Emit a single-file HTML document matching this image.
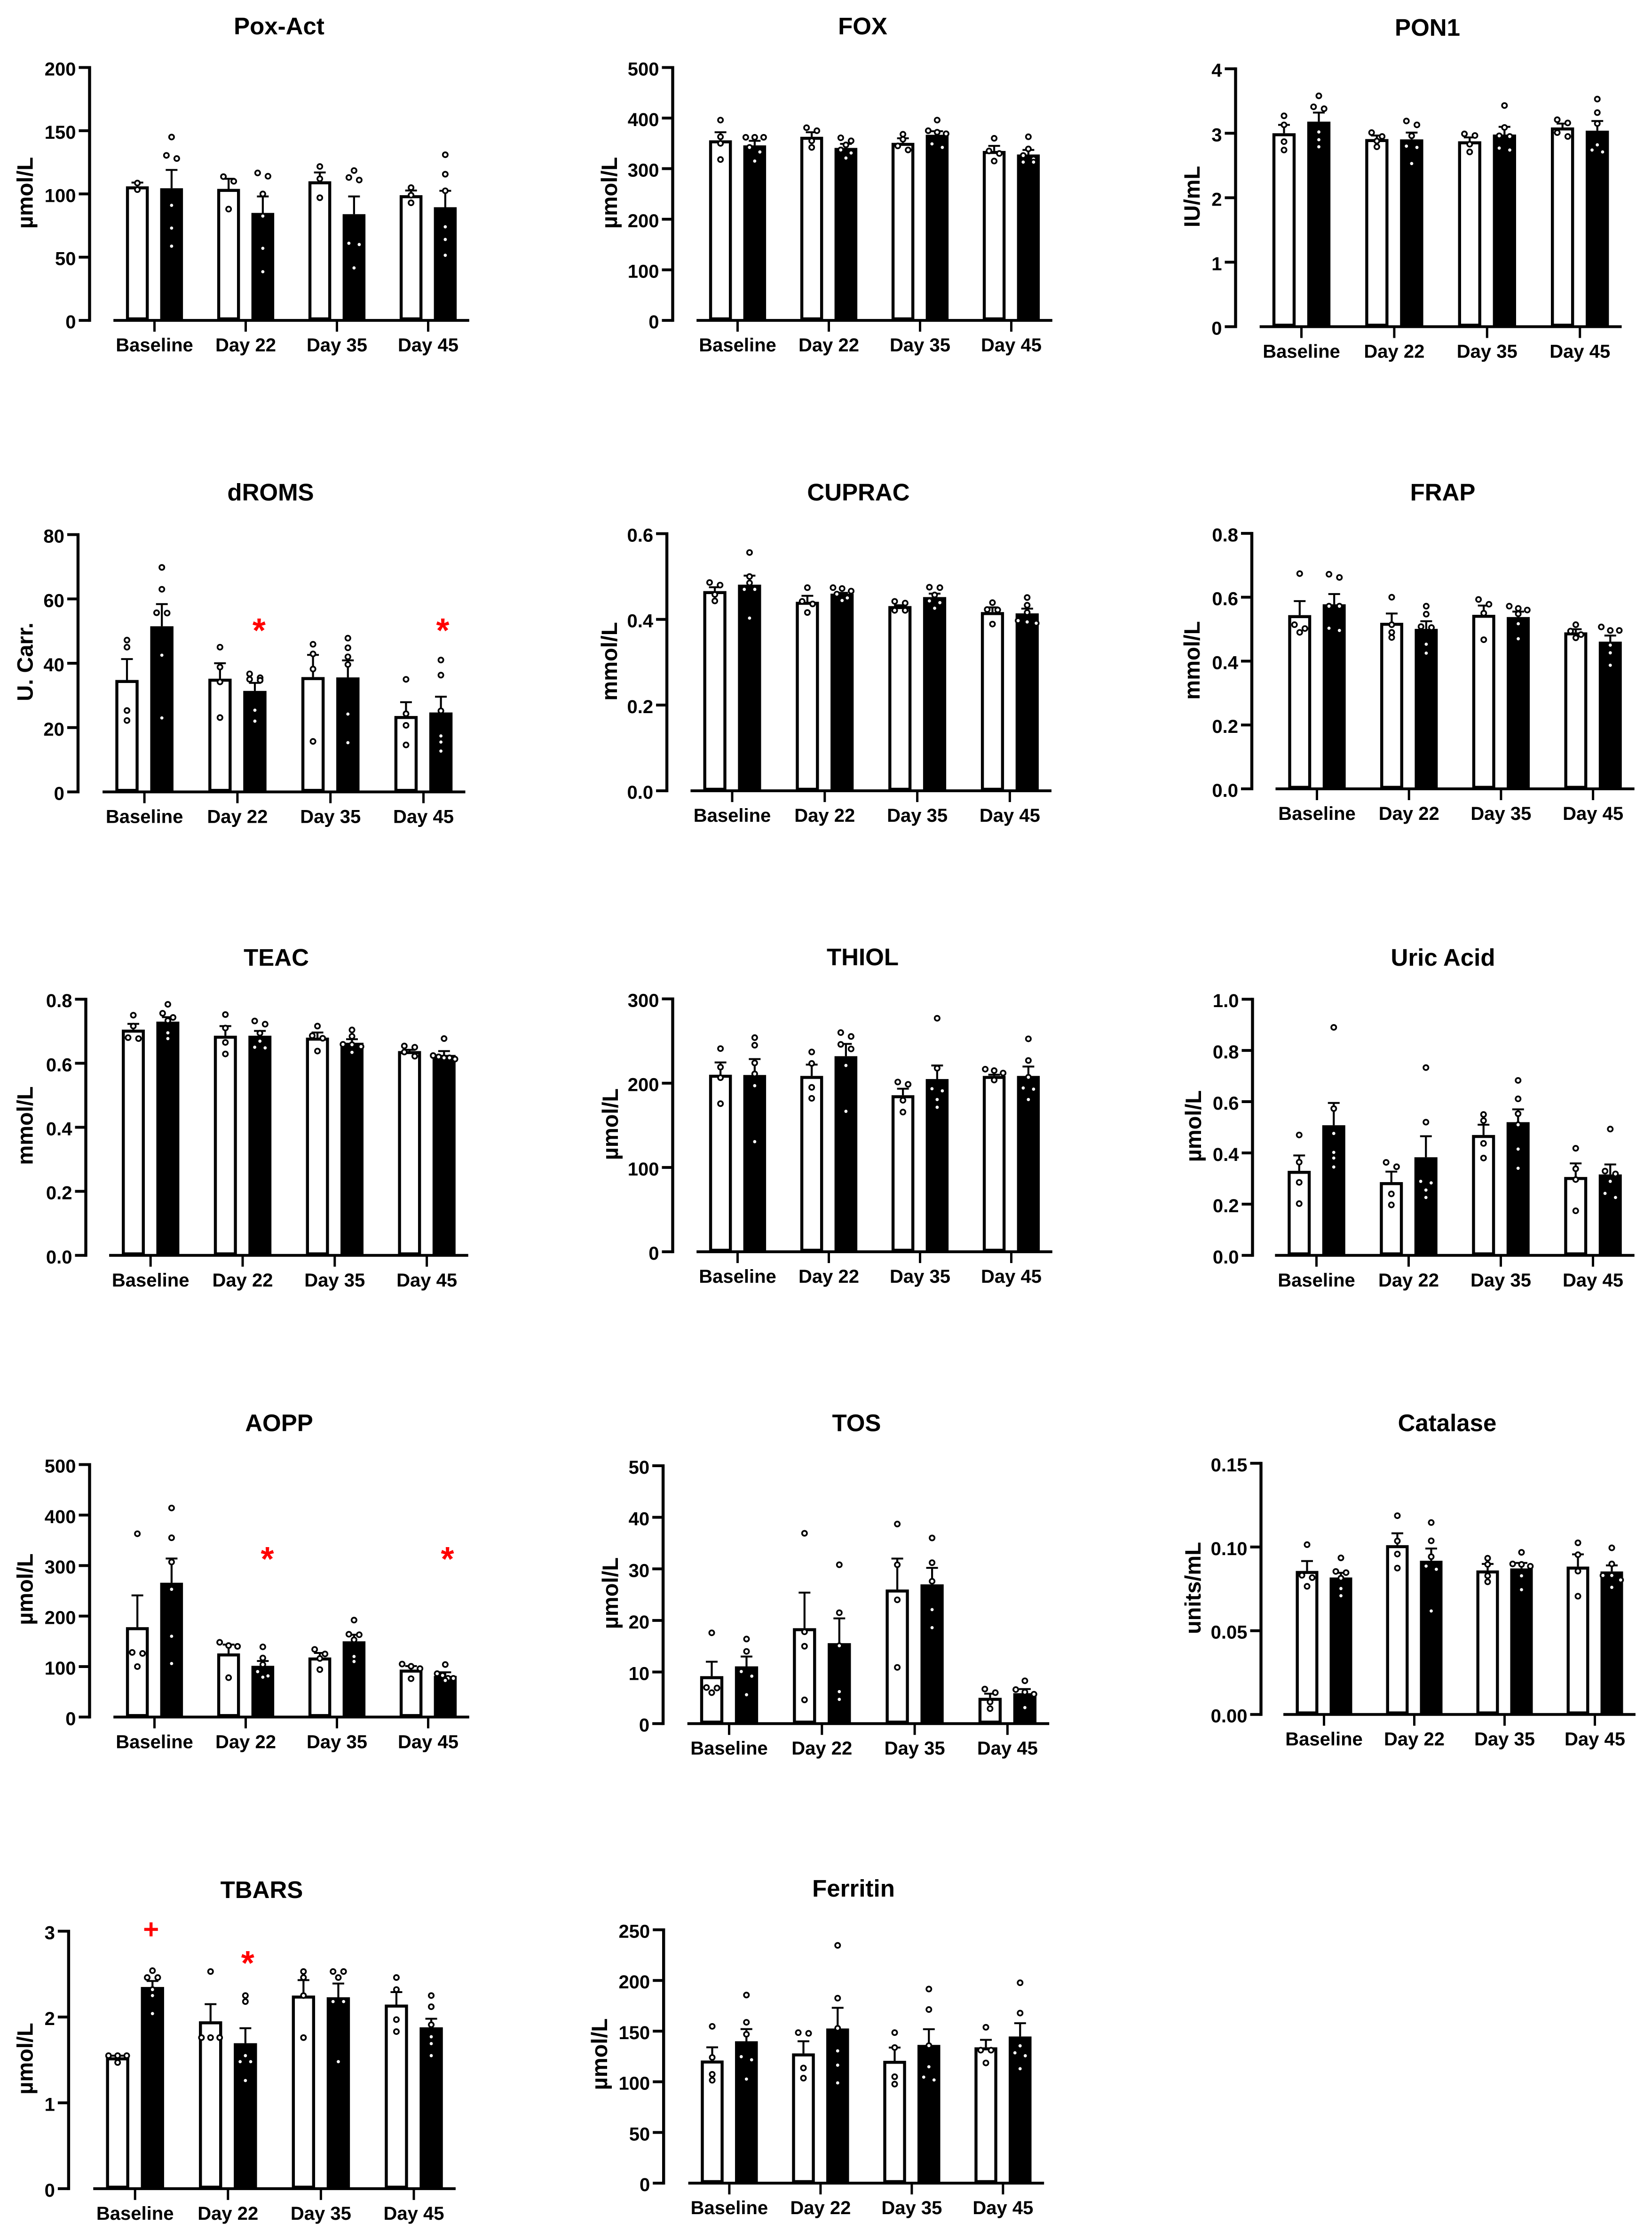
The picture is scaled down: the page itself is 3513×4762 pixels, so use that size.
<!DOCTYPE html>
<html lang="en">
<head>
<meta charset="utf-8">
<title>Oxidative stress biomarkers</title>
<style>
html,body{margin:0;padding:0;background:#fff;}
svg{display:block;}
text{font-family:"Liberation Sans",Arial,sans-serif;font-weight:bold;fill:#000;}
</style>
</head>
<body>
<svg id="figure" xmlns="http://www.w3.org/2000/svg" width="3513" height="4762" viewBox="0 0 3513 4762">
<rect x="0" y="0" width="3513" height="4762" fill="#ffffff"></rect>
</svg>
<script>
// Shared categories. Each means/errorTops/points array runs: Baseline control, Baseline treated, Day 22 control, ...
const categories = ["Baseline", "Day 22", "Day 35", "Day 45"];

const poxActTicks = ["0", "50", "100", "150", "200"];
const poxActMeans = [106, 104.5, 104, 85, 110, 84, 99, 89.5];
const poxActErrorTops = [109, 119, 112, 98, 117, 98, 102.7, 102.5];
const poxActPoints = [[108.6, 103.4], [145, 130.5, 128, 91, 73, 58.7], [113.7, 110, 88], [116.6, 114, 100, 82.5, 57, 38.5], [121.7, 112, 97], [118.5, 113, 111, 61, 60, 41.5], [105, 99, 93], [131, 115.6, 102.5, 74, 64, 51.5]];

const foxTicks = ["0", "100", "200", "300", "400", "500"];
const foxMeans = [356, 346, 363, 341, 351, 367, 335, 328];
const foxErrorTops = [372, 355, 372, 349, 360, 374, 345, 337];
const foxPoints = [[396, 363, 350, 318], [362, 362, 362, 342, 333, 315], [381, 375, 355, 342], [361, 355, 347, 337, 331, 321], [368, 358, 345, 337], [396, 375, 372, 369, 349, 342], [360, 335, 330, 315], [363, 339, 326, 319, 313, 313]];

const pon1Ticks = ["0", "1", "2", "3", "4"];
const pon1Means = [3.0, 3.18, 2.91, 2.905, 2.875, 2.98, 3.09, 3.04];
const pon1ErrorTops = [3.13, 3.32, 2.965, 3.01, 2.935, 3.1, 3.15, 3.19];
const pon1Points = [[3.27, 3.13, 2.87, 2.74], [3.58, 3.41, 3.38, 3.02, 2.9, 2.79], [3.01, 2.95, 2.88, 2.79], [3.19, 3.13, 2.96, 2.8, 2.78, 2.53], [2.99, 2.965, 2.83, 2.71], [3.43, 3.09, 2.96, 2.95, 2.77, 2.74], [3.21, 3.16, 3.01, 2.95], [3.53, 3.32, 3.15, 2.82, 2.74, 2.71]];

const dromsTicks = ["0", "20", "40", "60", "80"];
const dromsMeans = [34.8, 51.5, 35.2, 31.4, 35.7, 35.6, 23.6, 24.7];
const dromsErrorTops = [41.3, 58.4, 40, 33.9, 42.6, 40.9, 27.9, 29.6];
const dromsPoints = [[47.2, 45, 25.3, 22.2], [69.8, 63, 55.7, 55.6, 42.5, 23], [45, 38.8, 34.2, 23.1], [36.7, 35.5, 35, 34.7, 25.4, 22], [45.9, 42.9, 38.2, 15.7], [47.8, 44.8, 42, 39.6, 24.2, 15.3], [35, 24.3, 20.7, 14.6], [41, 36.3, 25.2, 17.4, 15.5, 12.7]];

const cupracTicks = ["0.0", "0.2", "0.4", "0.6"];
const cupracMeans = [0.466, 0.481, 0.441, 0.46, 0.431, 0.452, 0.417, 0.414];
const cupracErrorTops = [0.475, 0.502, 0.455, 0.462, 0.433, 0.46, 0.428, 0.425];
const cupracPoints = [[0.486, 0.48, 0.458, 0.443], [0.556, 0.5, 0.485, 0.47, 0.47, 0.403], [0.474, 0.442, 0.436, 0.416], [0.474, 0.472, 0.466, 0.459, 0.45, 0.444], [0.442, 0.438, 0.421, 0.421], [0.475, 0.474, 0.457, 0.443, 0.439, 0.426], [0.439, 0.423, 0.422, 0.389], [0.451, 0.433, 0.416, 0.397, 0.394, 0.391]];

const frapTicks = ["0.0", "0.2", "0.4", "0.6", "0.8"];
const frapMeans = [0.544, 0.578, 0.52, 0.501, 0.545, 0.538, 0.49, 0.461];
const frapErrorTops = [0.588, 0.61, 0.549, 0.525, 0.574, 0.555, 0.5, 0.48];
const frapPoints = [[0.674, 0.514, 0.502, 0.49], [0.672, 0.662, 0.572, 0.572, 0.503, 0.496], [0.6, 0.514, 0.49, 0.474], [0.572, 0.547, 0.508, 0.505, 0.453, 0.425], [0.593, 0.578, 0.55, 0.467], [0.572, 0.565, 0.56, 0.548, 0.517, 0.47], [0.514, 0.494, 0.483, 0.473], [0.507, 0.496, 0.496, 0.45, 0.426, 0.387]];

const teacTicks = ["0.0", "0.2", "0.4", "0.6", "0.8"];
const teacMeans = [0.705, 0.73, 0.686, 0.686, 0.68, 0.664, 0.638, 0.626];
const teacErrorTops = [0.723, 0.744, 0.716, 0.701, 0.696, 0.675, 0.642, 0.638];
const teacPoints = [[0.75, 0.716, 0.68, 0.677], [0.784, 0.756, 0.743, 0.733, 0.695, 0.677], [0.752, 0.71, 0.665, 0.629], [0.732, 0.722, 0.694, 0.669, 0.65, 0.648], [0.716, 0.686, 0.678, 0.638], [0.704, 0.684, 0.659, 0.658, 0.652, 0.634], [0.654, 0.65, 0.635, 0.622], [0.677, 0.624, 0.62, 0.617, 0.617, 0.613]];

const thiolTicks = ["0", "100", "200", "300"];
const thiolMeans = [210, 209.7, 208.6, 232, 185.7, 204.9, 208.6, 208.6];
const thiolErrorTops = [224.6, 228.6, 222, 246.6, 193.4, 221, 210, 219.7];
const thiolPoints = [[241, 219, 206.5, 175.7], [254, 245, 224, 211, 197, 130.6], [237, 223.4, 195, 182], [260, 255.4, 246, 240.6, 221, 166.6], [201.4, 198.6, 179.7, 165.7], [277, 217.7, 193.4, 190.9, 180.6, 171.4], [216.6, 214.9, 212, 203.7], [252.6, 226.9, 207, 194.3, 192.9, 180.6]];

const uricAcidTicks = ["0.0", "0.2", "0.4", "0.6", "0.8", "1.0"];
const uricAcidMeans = [0.33, 0.508, 0.286, 0.383, 0.47, 0.52, 0.306, 0.316];
const uricAcidErrorTops = [0.39, 0.595, 0.327, 0.465, 0.51, 0.57, 0.359, 0.355];
const uricAcidPoints = [[0.47, 0.364, 0.285, 0.202], [0.89, 0.573, 0.476, 0.402, 0.38, 0.345], [0.363, 0.346, 0.24, 0.197], [0.733, 0.52, 0.289, 0.283, 0.255, 0.226], [0.55, 0.526, 0.437, 0.38], [0.683, 0.611, 0.553, 0.51, 0.415, 0.34], [0.418, 0.338, 0.296, 0.174], [0.493, 0.329, 0.318, 0.289, 0.242, 0.226]];

const aoppTicks = ["0", "100", "200", "300", "400", "500"];
const aoppMeans = [178, 266, 126, 101.5, 118, 150, 94, 81.5];
const aoppErrorTops = [241, 314, 143.5, 111, 127, 163, 101, 88.6];
const aoppPoints = [[363, 128, 126, 100], [414, 355, 307, 253, 160, 106], [148, 141.6, 140, 78], [139, 117, 104, 90, 81.5, 79], [134, 125, 116, 94], [192, 164, 163, 153, 120, 110], [105, 100.5, 96, 76], [104, 86, 82.5, 76.7, 76.7, 72.5]];

const tosTicks = ["0", "10", "20", "30", "40", "50"];
const tosMeans = [9.2, 11.1, 18.5, 15.6, 26, 27, 5, 5.9];
const tosErrorTops = [12, 13, 25.4, 20.4, 32, 30.2, 5.8, 6.7];
const tosPoints = [[17.6, 7, 6.9, 6], [16.4, 14, 10.1, 9.2, 5.6], [36.9, 17.8, 15, 4.6], [30.8, 21.5, 15.1, 6.2, 4.7], [38.7, 30.8, 24, 10.9], [36, 31.2, 27.6, 22.1, 18.6], [6.7, 6, 4.2, 2.9], [8.3, 6.6, 6.1, 5.7, 3.1]];

const catalaseTicks = ["0.00", "0.05", "0.10", "0.15"];
const catalaseMeans = [0.0857, 0.0818, 0.1011, 0.0918, 0.086, 0.0872, 0.0883, 0.0854];
const catalaseErrorTops = [0.0916, 0.0846, 0.1082, 0.0991, 0.0899, 0.0905, 0.0956, 0.089];
const catalasePoints = [[0.1014, 0.0831, 0.0817, 0.0765], [0.0935, 0.0854, 0.0847, 0.0814, 0.0752, 0.0709], [0.1187, 0.1036, 0.0958, 0.0874], [0.1146, 0.1037, 0.0942, 0.0886, 0.0867, 0.0618], [0.0933, 0.0896, 0.0828, 0.0792], [0.0968, 0.0899, 0.0896, 0.0885, 0.0828, 0.0745], [0.1025, 0.0954, 0.0856, 0.0706], [0.0995, 0.0899, 0.083, 0.083, 0.0803, 0.0759]];

const tbarsTicks = ["0", "1", "2", "3"];
const tbarsMeans = [1.53, 2.35, 1.95, 1.695, 2.25, 2.23, 2.145, 1.88];
const tbarsErrorTops = [1.55, 2.42, 2.15, 1.87, 2.43, 2.39, 2.29, 1.98];
const tbarsPoints = [[1.55, 1.55, 1.55, 1.47], [2.54, 2.46, 2.46, 2.32, 2.25, 2.04], [2.53, 1.76, 1.76, 1.76], [2.25, 2.18, 1.55, 1.48, 1.48, 1.26], [2.53, 2.46, 2.25, 1.76], [2.53, 2.53, 2.46, 2.18, 2.18, 1.48], [2.46, 2.32, 1.97, 1.83], [2.25, 2.12, 1.91, 1.77, 1.69, 1.55]];

const ferritinTicks = ["0", "50", "100", "150", "200", "250"];
const ferritinMeans = [121, 140, 128, 152.6, 120.7, 136.4, 134, 144.7];
const ferritinErrorTops = [134, 152, 140, 173, 133.8, 151.9, 141.4, 157.8];
const ferritinPoints = [[154.7, 124, 107.4, 101.5], [185.6, 158.7, 146.9, 124.8, 121.7, 102.7], [148.5, 147.8, 113.6, 103.6], [234.6, 182.5, 152.8, 130.5, 116.4, 98.9], [148.5, 133.8, 105, 97.7], [191.5, 171.3, 135.7, 114.8, 104.6, 101.8], [153.8, 131.2, 131.2, 118.6], [197.7, 167.8, 135.5, 128.6, 125.7, 112.9]];

const dromsMarkerGroups = [1, 3];
const dromsMarkerValues = [52.5, 52.5];
const aoppMarkerGroups = [1, 3];
const aoppMarkerValues = [327.5, 327.5];
const tbarsPlusGroups = [0];
const tbarsPlusValues = [3.02];
const tbarsStarGroups = [1];
const tbarsStarValues = [2.715];

const SVG_NS = "http://www.w3.org/2000/svg";
const figure = document.getElementById("figure");

function slug(s) {
  return s.toLowerCase().replace(/[^a-z0-9]+/g, "-").replace(/^-|-$/g, "");
}

function make(parent, tag, attrs, text) {
  const node = document.createElementNS(SVG_NS, tag);
  for (const key in attrs) node.setAttribute(key, attrs[key]);
  if (text !== undefined) node.textContent = text;
  parent.appendChild(node);
  return node;
}

function swarm(values, yScale, spread) {
  const sorted = values.slice().sort(function (a, b) { return b - a; });
  const placed = [];
  let i = 0;
  while (i < sorted.length) {
    let j = i + 1;
    while (j < sorted.length && yScale(sorted[j]) - yScale(sorted[i]) < 10.5) j++;
    const n = j - i;
    const gap = (n === 2 ? 22 : n === 3 ? 19 : 11.5) * spread;
    for (let k = 0; k < n; k++) {
      placed.push({ value: sorted[i + k], dx: (k - (n - 1) / 2) * gap });
    }
    i = j;
  }
  return placed;
}

function drawPanel(panel) {
  // Calibration against the reference render.
  const cfg = Object.assign({}, panel, {
    axisX: panel.axisX - 1.5,
    y0: panel.y0 - 3.5,
    yTop: panel.yTop - 2.5,
    firstCat: panel.firstCat - 1.5,
    titleX: panel.titleX - 1.5,
    yTitleX: panel.yTitleX - 1,
    yTitleY: panel.yTitleY - 4
  });

  const g = make(figure, "g", {});
  
  

  const maxValue = parseFloat(cfg.ticks[cfg.ticks.length - 1]);
  const yScale = function (v) { return cfg.y0 - (v / maxValue) * (cfg.y0 - cfg.yTop); };
  const catX = function (i) { return cfg.firstCat + i * cfg.catStep; };
  const spread = cfg.catStep / 194;
  const barWidth = cfg.catStep * 0.25;
  const barOffset = cfg.catStep * 0.1875;

  const title = make(g, "text", { x: cfg.titleX, y: cfg.titleY, "text-anchor": "middle", "font-size": 51 }, cfg.title);
  
  

  const yTitle = make(g, "text", {
    transform: "translate(" + cfg.yTitleX + " " + cfg.yTitleY + ") rotate(-90)",
    "text-anchor": "middle", "font-size": 47
  }, cfg.yLabel);
  
  

  // Bars first, so the axes stay on top of the bar bases.
  const groupCount = categories.length * 2;
  for (let b = 0; b < groupCount; b++) {
    const cat = Math.floor(b / 2);
    const treated = b % 2 === 1;
    const cx = catX(cat) + (treated ? barOffset : -barOffset);
    const top = yScale(cfg.means[b]);
    const series = treated ? "treated" : "control";
    const label = slug(categories[cat]) + "-" + series;
    let bar;
    if (treated) {
      bar = make(g, "rect", { x: cx - barWidth / 2, y: top, width: barWidth, height: cfg.y0 - top, fill: "#000" });
    } else {
      bar = make(g, "rect", { x: cx - barWidth / 2 + 3.2, y: top + 3.2, width: barWidth - 6.4, height: cfg.y0 - top - 6.4, fill: "#fff", stroke: "#000", "stroke-width": 6.4 });
    }
    
    

    const errY = yScale(cfg.errorTops[b]);
    const stem = make(g, "line", { x1: cx, x2: cx, y1: top, y2: errY, stroke: "#000", "stroke-width": 4.2 });
    
    
    const cap = make(g, "line", { x1: cx - 12.5, x2: cx + 12.5, y1: errY, y2: errY, stroke: "#000", "stroke-width": 4 });
    
    
  }

  // Y axis
  const yAxis = make(g, "line", { x1: cfg.axisX, x2: cfg.axisX, y1: cfg.yTop - 3, y2: cfg.y0 + 3, stroke: "#000", "stroke-width": 6.4 });
  
  
  cfg.ticks.forEach(function (label) {
    const ty = yScale(parseFloat(label));
    const tick = make(g, "line", { x1: cfg.axisX - 23, x2: cfg.axisX, y1: ty, y2: ty, stroke: "#000", "stroke-width": 6 });
    
    
    const tickLabel = make(g, "text", { x: cfg.axisX - 29, y: ty + 17, "text-anchor": "end", "font-size": 40 }, label);
    
    
  });

  // X axis
  const xAxis = make(g, "line", {
    x1: catX(0) - cfg.catStep * 0.45, x2: catX(categories.length - 1) + cfg.catStep * 0.45,
    y1: cfg.y0, y2: cfg.y0, stroke: "#000", "stroke-width": 6
  });
  
  
  categories.forEach(function (label, i) {
    const tick = make(g, "line", { x1: catX(i), x2: catX(i), y1: cfg.y0, y2: cfg.y0 + 24, stroke: "#000", "stroke-width": 5 });
    
    
    const tickLabel = make(g, "text", { x: catX(i), y: cfg.y0 + 66, "text-anchor": "middle", "font-size": 40 }, label);
    
    
  });

  // Individual data points
  cfg.points.forEach(function (values, b) {
    const cat = Math.floor(b / 2);
    const treated = b % 2 === 1;
    const cx = catX(cat) + (treated ? barOffset : -barOffset);
    swarm(values, yScale, spread).forEach(function (pt) {
      const dot = make(g, "circle", { cx: cx + pt.dx, cy: yScale(pt.value), r: 5.2, fill: "#fff", stroke: "#000", "stroke-width": 3.6 });
      
      
    });
  });

  // Significance markers, positioned in data units above their group
  (cfg.stars || []).forEach(function (s) {
    const fs = 72;
    const mark = make(g, "text", {
      x: catX(s.group) + s.dx, y: yScale(s.value) + fs * 0.56,
      "text-anchor": "middle", "font-size": fs, style: "fill:#ff0000"
    }, "*");
    
    
  });
  (cfg.plus || []).forEach(function (s) {
    const fs = 58;
    const mark = make(g, "text", {
      x: catX(s.group) + s.dx, y: yScale(s.value) + fs * 0.33,
      "text-anchor": "middle", "font-size": fs, style: "fill:#ff0000"
    }, "+");
    
    
  });
}

drawPanel({ title: "Pox-Act", yLabel: "µmol/L", ticks: poxActTicks, means: poxActMeans, errorTops: poxActErrorTops, points: poxActPoints,
  axisX: 192, y0: 684.6, yTop: 146, firstCat: 330, catStep: 194, titleX: 595, titleY: 73, yTitleX: 70.6, yTitleY: 414 });
drawPanel({ title: "FOX", yLabel: "µmol/L", ticks: foxTicks, means: foxMeans, errorTops: foxErrorTops, points: foxPoints,
  axisX: 1432, y0: 684.6, yTop: 146, firstCat: 1570, catStep: 194, titleX: 1836, titleY: 73, yTitleX: 1313, yTitleY: 414 });
drawPanel({ title: "PON1", yLabel: "IU/mL", ticks: pon1Ticks, means: pon1Means, errorTops: pon1ErrorTops, points: pon1Points,
  axisX: 2629, y0: 698, yTop: 148.7, firstCat: 2769, catStep: 197.4, titleX: 3037, titleY: 76, yTitleX: 2552, yTitleY: 422 });

drawPanel({ title: "dROMS", yLabel: "U. Carr.", ticks: dromsTicks, means: dromsMeans, errorTops: dromsErrorTops, points: dromsPoints,
  axisX: 167.4, y0: 1687, yTop: 1139, firstCat: 308.6, catStep: 197.8, titleX: 577, titleY: 1064, yTitleX: 70.6, yTitleY: 1411,
  stars: dromsMarkerGroups.map(function (group, i) { return { group: group, value: dromsMarkerValues[i], dx: group === 1 ? 46 : 41 }; }) });
drawPanel({ title: "CUPRAC", yLabel: "mmol/L", ticks: cupracTicks, means: cupracMeans, errorTops: cupracErrorTops, points: cupracPoints,
  axisX: 1419.6, y0: 1684.6, yTop: 1137, firstCat: 1558.5, catStep: 196.8, titleX: 1827, titleY: 1064, yTitleX: 1313, yTitleY: 1410 });
drawPanel({ title: "FRAP", yLabel: "mmol/L", ticks: frapTicks, means: frapMeans, errorTops: frapErrorTops, points: frapPoints,
  axisX: 2663.5, y0: 1680.5, yTop: 1136.4, firstCat: 2802, catStep: 195.7, titleX: 3069.5, titleY: 1064, yTitleX: 2552, yTitleY: 1408 });

drawPanel({ title: "TEAC", yLabel: "mmol/L", ticks: teacTicks, means: teacMeans, errorTops: teacErrorTops, points: teacPoints,
  axisX: 184, y0: 2672.3, yTop: 2126.7, firstCat: 321.7, catStep: 195.8, titleX: 589, titleY: 2053, yTitleX: 70.6, yTitleY: 2397 });
drawPanel({ title: "THIOL", yLabel: "µmol/L", ticks: thiolTicks, means: thiolMeans, errorTops: thiolErrorTops, points: thiolPoints,
  axisX: 1432, y0: 2664.6, yTop: 2126, firstCat: 1570, catStep: 194, titleX: 1836, titleY: 2052, yTitleX: 1315, yTitleY: 2394 });
drawPanel({ title: "Uric Acid", yLabel: "µmol/L", ticks: uricAcidTicks, means: uricAcidMeans, errorTops: uricAcidErrorTops, points: uricAcidPoints,
  axisX: 2665, y0: 2672.3, yTop: 2126.7, firstCat: 2801, catStep: 196, titleX: 3070, titleY: 2053, yTitleX: 2555, yTitleY: 2398 });

drawPanel({ title: "AOPP", yLabel: "µmol/L", ticks: aoppTicks, means: aoppMeans, errorTops: aoppErrorTops, points: aoppPoints,
  axisX: 192, y0: 3653.8, yTop: 3116, firstCat: 330, catStep: 194, titleX: 595, titleY: 3042.6, yTitleX: 70.6, yTitleY: 3382.6,
  stars: aoppMarkerGroups.map(function (group, i) { return { group: group, value: aoppMarkerValues[i], dx: group === 1 ? 46 : 41 }; }) });
drawPanel({ title: "TOS", yLabel: "µmol/L", ticks: tosTicks, means: tosMeans, errorTops: tosErrorTops, points: tosPoints,
  axisX: 1411.6, y0: 3667.7, yTop: 3118.5, firstCat: 1552, catStep: 197.3, titleX: 1823, titleY: 3042.6, yTitleX: 1315, yTitleY: 3391 });
drawPanel({ title: "Catalase", yLabel: "units/mL", ticks: catalaseTicks, means: catalaseMeans, errorTops: catalaseErrorTops, points: catalasePoints,
  axisX: 2683, y0: 3648.2, yTop: 3113.3, firstCat: 2817, catStep: 192, titleX: 3079, titleY: 3042.6, yTitleX: 2554, yTitleY: 3380 });

drawPanel({ title: "TBARS", yLabel: "µmol/L", ticks: tbarsTicks, means: tbarsMeans, errorTops: tbarsErrorTops, points: tbarsPoints,
  axisX: 147.4, y0: 4656.4, yTop: 4108, firstCat: 288.7, catStep: 197.6, titleX: 558, titleY: 4035, yTitleX: 70.6, yTitleY: 4380.5,
  plus: tbarsPlusGroups.map(function (group, i) { return { group: group, value: tbarsPlusValues[i], dx: 34 }; }),
  stars: tbarsStarGroups.map(function (group, i) { return { group: group, value: tbarsStarValues[i], dx: 42 }; }) });
drawPanel({ title: "Ferritin", yLabel: "µmol/L", ticks: ferritinTicks, means: ferritinMeans, errorTops: ferritinErrorTops, points: ferritinPoints,
  axisX: 1412.7, y0: 4644.6, yTop: 4105, firstCat: 1552.4, catStep: 194, titleX: 1816.5, titleY: 4032, yTitleX: 1292, yTitleY: 4371 });
</script>
</body>
</html>
